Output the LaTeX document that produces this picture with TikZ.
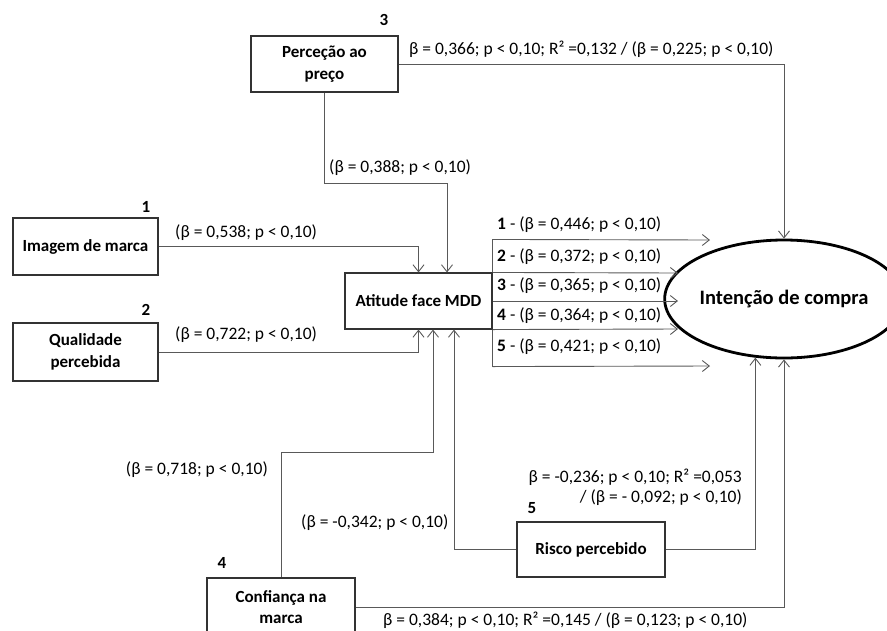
\documentclass[tikz,border=0pt]{standalone}
\usepackage{fontspec}
\setmainfont{Carlito}
\usetikzlibrary{shapes.geometric}
\usetikzlibrary{arrows.meta}

\begin{document}
\begin{tikzpicture}[
    x=1pt, y=-1pt,
    >={Straight Barb[length=7pt,width=11pt]},
    varbox/.style={rectangle, draw=black!80, line width=1.1pt, fill=white, align=center, inner sep=2pt, font=\fontsize{17}{21.5}\selectfont\bfseries},
    goalnode/.style={ellipse, draw=black, line width=2.8pt, minimum width=200pt, minimum height=118pt, inner sep=0pt, font=\fontsize{20.5}{24}\selectfont\bfseries},
    conn/.style={draw=black!65, line width=0.9pt},
    coef/.style={inner sep=0pt, font=\fontsize{17.5}{20}\selectfont},
    numlab/.style={inner sep=0pt, font=\fontsize{17}{20}\selectfont\bfseries},
  ]
  \useasboundingbox (0,0) rectangle (887,630);

  % constructs
  \node[varbox, minimum width=147pt, minimum height=56pt] (perc)  at (324.5,64)  {Perceção ao\\preço};
  \node[varbox, minimum width=145pt, minimum height=57pt] (imag)  at (85.5,246.5) {Imagem de marca};
  \node[varbox, minimum width=145pt, minimum height=58pt] (qual)  at (85.5,352)  {Qualidade\\percebida};
  \node[varbox, minimum width=147pt, minimum height=56pt] (mdd)   at (418.5,301) {Atitude face MDD};
  \node[varbox, minimum width=148pt, minimum height=58pt] (conf)  at (281,607)   {Confiança na\\marca};
  \node[varbox, minimum width=148pt, minimum height=55pt] (risco) at (591,549.5) {Risco percebido};
  \node[goalnode] (intencao) at (784,299) {Intenção de compra};

  % hypothesis numbers
  \node[numlab] (num1) at (146,207) {1};
  \node[numlab] (num2) at (146,310) {2};
  \node[numlab] (num3) at (384,20)  {3};
  \node[numlab] (num4) at (222,563) {4};
  \node[numlab] (num5) at (532,508) {5};

  % paths into the attitude
  \draw[conn, ->] (imag.east) -| (mdd.north);
  \draw[conn, ->] (perc.south) -- ++(0,91) -| ([xshift=28.5pt]mdd.north);
  \draw[conn, ->] (qual.east) -| (mdd.south);
  \draw[conn, ->] (conf.north) -- ++(0,-125) -| ([xshift=14.5pt]mdd.south);
  \draw[conn, ->] (risco.west) -| ([xshift=35.5pt]mdd.south);

  % direct paths into the intention
  \draw[conn, ->] (perc.east) -| (intencao.north);
  \draw[conn, ->] (risco.east) -| (intencao.244);
  \draw[conn, ->] (conf.east) -| (intencao.south);

  % attitude to intention, one per construct
  \draw[conn] (mdd.north east) -- ++(0,-33) coordinate (bustop);
  \draw[conn] (mdd.south east) -- ++(0,37) coordinate (busbot);
  \coordinate (end1) at (710,240);
  \coordinate (end2) at (678,273);
  \coordinate (end3) at (678,301);
  \coordinate (end4) at (678,329);
  \coordinate (end5) at (710,366);
  \draw[conn, ->] (bustop) -- (end1);
  \draw[conn, ->] (mdd.north east) -- (end2);
  \draw[conn, ->] (mdd.east) -- (end3);
  \draw[conn, ->] (mdd.south east) -- (end4);
  \draw[conn, ->] (busbot) -- (end5);

  % coefficients
  \node[coef, anchor=west] (ctop) at (409,49) {β = 0,366; p < 0,10; R² =0,132 / (β = 0,225; p < 0,10)};
  \node[coef, anchor=west] (c388) at (329,168) {(β = 0,388; p < 0,10)};
  \node[coef, anchor=west] (c538) at (175,233) {(β = 0,538; p < 0,10)};
  \node[coef, anchor=west] (c722) at (175,335) {(β = 0,722; p < 0,10)};
  \node[coef, anchor=east] (c718) at (268,470) {(β = 0,718; p < 0,10)};
  \node[coef, anchor=west] (c342) at (301,523) {(β = -0,342; p < 0,10)};
  \node[coef, anchor=east, align=right] (crisco) at (742,487) {β = -0,236; p < 0,10; R² =0,053\\/ (β = - 0,092; p < 0,10)};
  \node[coef, anchor=west] (cbot) at (383,620) {β = 0,384; p < 0,10; R² =0,145 / (β = 0,123; p < 0,10)};

  \node[coef, anchor=west] (route1) at (497,225) {\textbf{1} - (β = 0,446; p < 0,10)};
  \node[coef, anchor=west] (route2) at (497,257) {\textbf{2} - (β = 0,372; p < 0,10)};
  \node[coef, anchor=west] (route3) at (497,286) {\textbf{3} - (β = 0,365; p < 0,10)};
  \node[coef, anchor=west] (route4) at (497,316) {\textbf{4} - (β = 0,364; p < 0,10)};
  \node[coef, anchor=west] (route5) at (497,347) {\textbf{5} - (β = 0,421; p < 0,10)};
\end{tikzpicture}
\end{document}
